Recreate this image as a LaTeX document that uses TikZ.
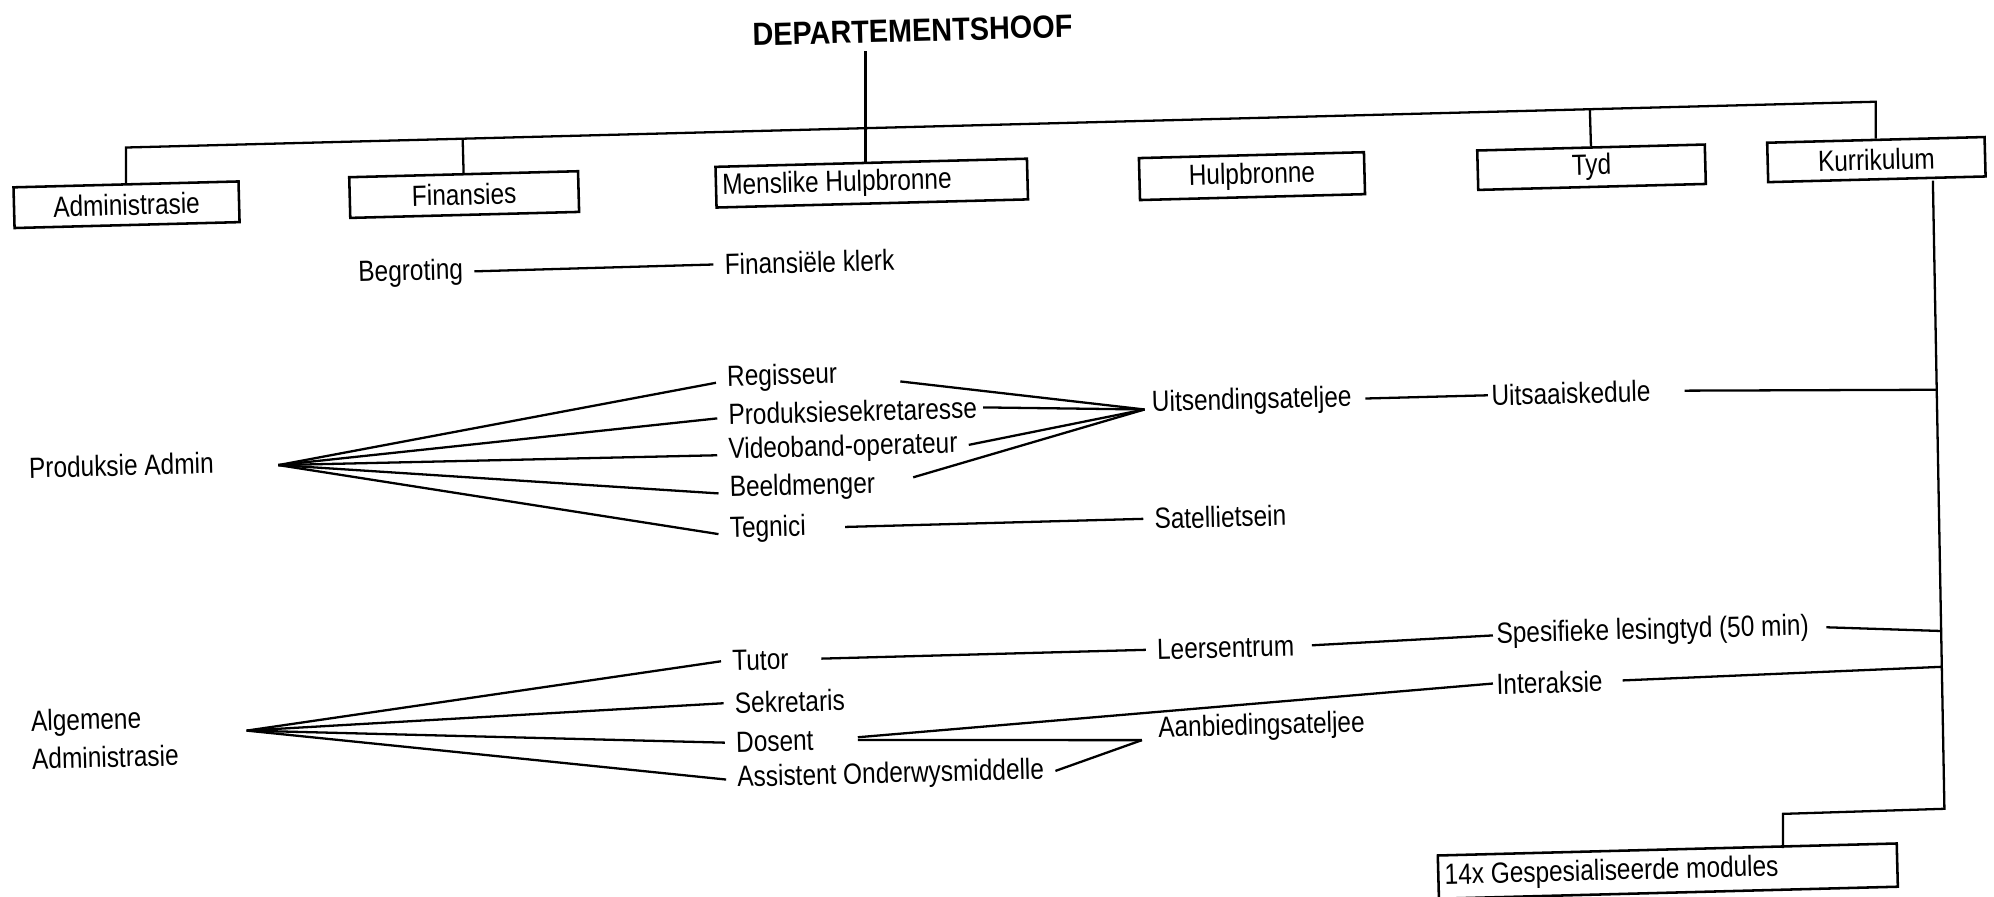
\documentclass[tikz,border=0pt]{standalone}
\usepackage{fontspec}
\setmainfont{Liberation Sans}
\newfontfamily\narrowsans[FakeStretch=0.835]{Liberation Sans}
\newfontfamily\headsans[FakeStretch=0.9]{Liberation Sans}
\usetikzlibrary{calc}

\begin{document}
\begin{tikzpicture}[x=0.5pt,y=-0.5pt,
  line width=0.9pt,
  every node/.style={rotate=1.5},
  lbl/.style={anchor=west, inner xsep=4pt, inner ysep=0pt,
    font=\narrowsans\fontsize{11.5}{15}\selectfont},
  unitbox/.style={draw, line width=1pt, inner xsep=2.5pt, inner ysep=0pt,
    font=\narrowsans\fontsize{11.5}{13}\selectfont},
  headline/.style={font=\headsans\bfseries\fontsize{12.6}{15}\selectfont},
]
% page frame
\fill[white] (0,0) rectangle (1568,705);
\useasboundingbox (0,0) rectangle (1568,705);

% head of department and the units below it
\node[headline] (head) at (717.5,24) {DEPARTEMENTSHOOF};

\node[unitbox, minimum width=88.5pt, minimum height=16pt] (admin) at (99.5,161) {Administrasie};
\node[unitbox, minimum width=90pt, minimum height=16pt] (fin) at (365,153) {Finansies};
\node[unitbox, minimum height=16pt] (mh) at (685.5,144) {\makebox[117.5pt][l]{Menslike Hulpbronne}};
\node[unitbox, minimum width=88.5pt, minimum height=16.5pt] (hulp) at (984.5,138.5) {Hulpbronne};
\node[unitbox, minimum width=89.5pt, minimum height=15.5pt] (tyd) at (1251.5,131.5) {Tyd};
\node[unitbox, minimum width=85.5pt, minimum height=15.5pt] (kurr) at (1475.5,125.5) {Kurrikulum};
\node[unitbox, minimum height=17pt] (mod) at (1311.5,685) {\makebox[175.5pt][l]{14x Gespesialiseerde modules}};

% distribution bar
\coordinate (barL) at ($(admin.north)+(0,-28)$);
\coordinate (barR) at ($(kurr.north)+(0,-29)$);
\draw (admin.north) -- (barL) -- (barR) -- (kurr.north);
\draw (fin.north) -- ($(barL)!(fin.north)!(barR)$);
\draw (tyd.north) -- ($(barL)!(tyd.north)!(barR)$);
\coordinate (mhTop) at ([xshift=-2.2pt]mh.north);
\draw (mhTop) -- (mhTop |- head.south);

% finance
\node[lbl] (begr) at (273,216) {Begroting};
\node[lbl] (fink) at (561,208) {Finansiële klerk};
\draw (begr.east) -- (fink.west);

% production administration
\node[lbl] (padm) at (14,368) {Produksie Admin};
\node[lbl] (reg) at (563,298) {Regisseur};
\node[lbl] (prod) at (564,326) {Produksiesekretaresse};
\node[lbl] (vid) at (564,355) {Videoband-operateur};
\node[lbl] (beeld) at (565,385) {Beeldmenger};
\node[lbl] (tegn) at (565,417) {Tegnici};
\coordinate (pa) at ([xshift=21pt,yshift=-1pt]padm.east);
\foreach \n in {reg,prod,vid,beeld,tegn} \draw (pa) -- ([yshift=-1.5pt]\n.west);

\node[lbl] (uits) at (897,318) {Uitsendingsateljee};
\node[lbl] (uitsk) at (1164,311) {Uitsaaiskedule};
\node[lbl] (sat) at (899,408) {Satellietsein};
\coordinate (ua) at ([xshift=1.5pt,yshift=-2pt]uits.west);
\draw[shorten <=20.5pt] (reg.east) -- (ua);
\draw[shorten <=-2pt] (prod.east) -- (ua);
\draw (vid.east) -- (ua);
\draw[shorten <=11pt] (beeld.east) -- (ua);
\draw[shorten <=1pt, shorten >=-3pt] (uits.east) -- (uitsk.west);
\draw[shorten <=11pt] (tegn.east) -- (sat.west);

% general administration
\node[lbl, align=left] (alg) at (16,582) {Algemene\\Administrasie};
\node[lbl] (tutor) at (567,520) {Tutor};
\node[lbl] (sekr) at (569,553) {Sekretaris};
\node[lbl] (dos) at (570,584) {Dosent};
\node[lbl] (asst) at (571,613) {Assistent Onderwysmiddelle};
\coordinate (aa) at ([xshift=22.5pt,yshift=2pt]alg.east);
\foreach \n in {tutor,sekr,dos,asst} \draw (aa) -- (\n.west);

\node[lbl] (leer) at (901,511) {Leersentrum};
\node[lbl] (spes) at (1168,500) {Spesifieke lesingtyd (50 min)};
\node[lbl] (inter) at (1168,538) {Interaksie};
\node[lbl] (aanb) at (902,574) {Aanbiedingsateljee};
\coordinate (ab) at ([xshift=-2pt,yshift=-4pt]aanb.west);
\draw[shorten <=8.5pt] (tutor.east) -- (leer.west);
\draw[shorten <=2.5pt, shorten >=-3pt] (leer.east) -- (spes.west);
\draw[shorten <=13pt, shorten >=-3pt] (dos.east) -- (inter.west);
\draw[shorten <=13pt] (dos.east) -- (ab);
\draw (asst.east) -- (ab);

% curriculum spine
\coordinate (kTop) at ([xshift=22pt]kurr.south);
\coordinate (vB) at (1529,636);
\coordinate (vS) at (1402,640);
\draw (kTop) -- (vB) -- (vS) -- (vS |- mod.north);
\coordinate (j1) at ($(kTop)!0.333!(vB)$);
\coordinate (j2) at ($(kTop)!0.717!(vB)$);
\coordinate (j3) at ($(kTop)!0.774!(vB)$);
\draw[shorten <=9pt] (uitsk.east) -- (j1);
\draw[shorten <=2.5pt] (spes.east) -- (j2);
\draw[shorten <=3.5pt] (inter.east) -- (j3);
\end{tikzpicture}
\end{document}
